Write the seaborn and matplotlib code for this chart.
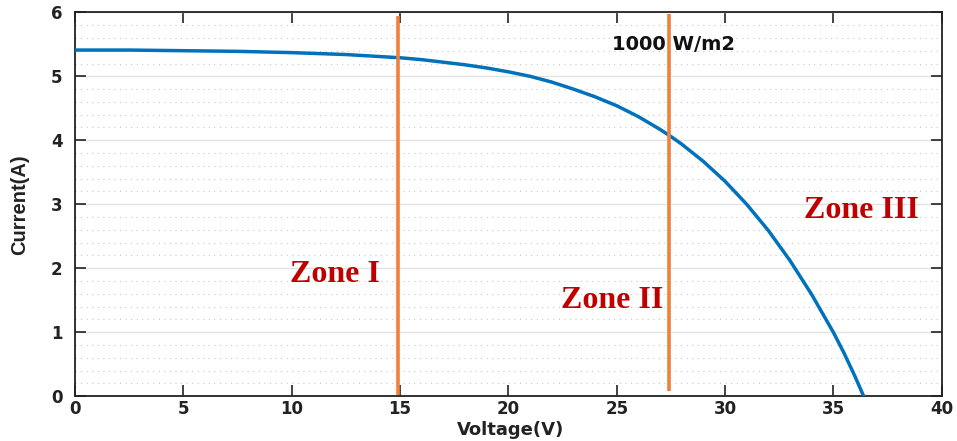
import matplotlib
matplotlib.use("Agg")
import matplotlib.pyplot as plt
import seaborn as sns
import pandas as pd
from matplotlib.ticker import MultipleLocator

# ---- data ----
voltage = [0, 2.5, 5, 7.5, 10, 12.5, 15, 16, 17, 18, 19, 20, 21, 22, 23, 24, 25, 26, 27,
           27.5, 28, 29, 30, 31, 32, 33, 34, 35, 35.5, 36, 36.4]
current = [5.41, 5.41, 5.40, 5.39, 5.37, 5.34, 5.29, 5.26, 5.22, 5.18, 5.13, 5.07, 5.00, 4.91,
           4.80, 4.68, 4.54, 4.37, 4.17, 4.06, 3.94, 3.67, 3.36, 3.00, 2.59, 2.12, 1.59,
           1.00, 0.67, 0.31, 0.0]

boundary_v = [14.9, 27.4]
boundary_top = [5.94, 5.97]
boundary_bottom = [0.02, 0.08]

zone_labels = ["Zone I", "Zone II", "Zone III"]
zone_x = [12.0, 24.8, 36.3]
zone_y = [1.9, 1.5, 2.9]

irr_label = "1000 W/m2"
irr_x, irr_y = 27.6, 5.5

x_ticks = [0, 5, 10, 15, 20, 25, 30, 35, 40]
y_ticks = [0, 1, 2, 3, 4, 5, 6]

df = pd.DataFrame({"Voltage": voltage, "Current": current})

sns.set_theme(style="white")
plt.rcParams["font.family"] = ["DejaVu Sans"]

fig = plt.figure(figsize=(9.57, 4.41), dpi=100)
ax = fig.add_axes([0.0784, 0.1014, 0.9056, 0.8707])

# grid
ax.yaxis.set_minor_locator(MultipleLocator(0.2))
ax.grid(False)
ax.grid(axis="y", which="major", color="#e3e3e3", linewidth=1.0, linestyle="-")
ax.grid(axis="y", which="minor", color="#c8c8c8", linewidth=0.8, linestyle=(0, (1, 4)))
ax.set_axisbelow(True)

sns.lineplot(data=df, x="Voltage", y="Current", sort=False, ax=ax,
             color="#0072BD", linewidth=2.5, zorder=3)
ax.lines[-1].set_solid_joinstyle("round")

ax.vlines(boundary_v, boundary_bottom, boundary_top, colors="#F0803C", linewidth=2.6, zorder=4)

for lab, zx, zy in zip(zone_labels, zone_x, zone_y):
    ax.text(zx, zy, lab, ha="center", va="center", color="#C00000",
            fontsize=23, fontweight="bold", family=["Liberation Serif", "DejaVu Serif"], zorder=5)

ax.text(irr_x, irr_y, irr_label, ha="center", va="center", color="#111111",
        fontsize=14, fontweight="bold", family=["DejaVu Sans"], zorder=5)

ax.set_xlim(0, 40)
ax.set_ylim(0, 6)
ax.set_xticks(x_ticks)
ax.set_yticks(y_ticks)
ax.set_xticklabels([str(t) for t in x_ticks])
ax.set_yticklabels([str(t) for t in y_ticks])

ax.tick_params(which="major", direction="in", length=8, width=1.2, color="#222222",
               top=True, right=True, bottom=True, left=True, labelsize=12, pad=3)
ax.tick_params(axis="y", pad=9)
ax.tick_params(which="minor", length=0)
for lab in ax.get_xticklabels() + ax.get_yticklabels():
    lab.set_fontweight("bold")
    lab.set_color("#222222")

for sp in ax.spines.values():
    sp.set_visible(True)
    sp.set_color("#222222")
    sp.set_linewidth(1.3)

ax.set_xlabel("Voltage(V)", fontsize=13, fontweight="bold", color="#222222", va="baseline")
ax.set_ylabel("Current(A)", fontsize=14.5, fontweight="bold", color="#222222",
              family=["Liberation Sans", "DejaVu Sans"])
ax.xaxis.set_label_coords(0.503, -0.1)
ax.yaxis.set_label_coords(-0.053, 0.5)

fig.savefig("out.png", dpi=100, facecolor="white")
